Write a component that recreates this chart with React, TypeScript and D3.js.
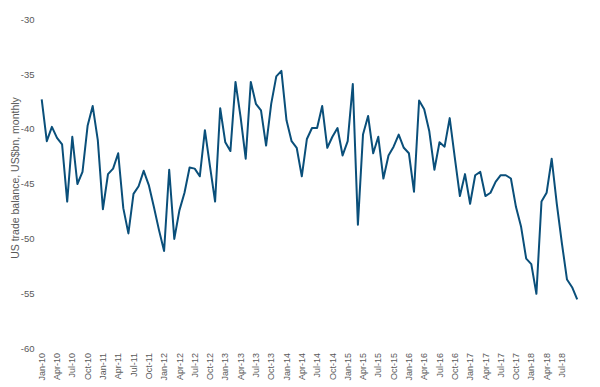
import React, { useEffect, useRef } from 'react';
import * as d3 from 'd3';

// Monthly US trade balance, US$bn, Jan-10 .. Oct-18
const startYear = 2010;
const balance2010 = [-37.3, -41.1, -39.8, -40.8, -41.4, -46.6, -40.7, -45.0, -43.9, -39.7, -37.9, -41.0];
const balance2011 = [-47.3, -44.1, -43.6, -42.2, -47.2, -49.5, -45.9, -45.2, -43.8, -45.1, -47.1, -49.2];
const balance2012 = [-51.1, -43.7, -50.0, -47.4, -45.8, -43.5, -43.6, -44.3, -40.1, -43.4, -46.6, -38.1];
const balance2013 = [-41.2, -42.0, -35.7, -38.9, -42.7, -35.7, -37.7, -38.3, -41.5, -37.7, -35.2, -34.7];
const balance2014 = [-39.2, -41.1, -41.7, -44.3, -40.9, -39.9, -39.9, -37.9, -41.7, -40.7, -39.9, -42.4];
const balance2015 = [-41.1, -35.9, -48.7, -40.5, -38.8, -42.2, -40.7, -44.5, -42.4, -41.6, -40.5, -41.7];
const balance2016 = [-42.2, -45.7, -37.4, -38.2, -40.2, -43.7, -41.2, -41.6, -39.0, -42.6, -46.1, -44.1];
const balance2017 = [-46.8, -44.2, -43.9, -46.1, -45.8, -44.8, -44.2, -44.2, -44.5, -47.1, -48.9, -51.8];
const balance2018 = [-52.3, -55.0, -46.6, -45.8, -42.7, -46.8, -50.4, -53.7, -54.4, -55.5];

const yTicks = [-60, -55, -50, -45, -40, -35, -30];
const monthNames = ['Jan', 'Feb', 'Mar', 'Apr', 'May', 'Jun', 'Jul', 'Aug', 'Sep', 'Oct', 'Nov', 'Dec'];

const values = [
  ...balance2010, ...balance2011, ...balance2012, ...balance2013, ...balance2014,
  ...balance2015, ...balance2016, ...balance2017, ...balance2018,
];

const monthLabel = (i: number) =>
  `${monthNames[i % 12]}-${String((startYear + Math.floor(i / 12)) % 100).padStart(2, '0')}`;

// quarterly tick labels Jan-10 .. Jul-18
const xTickIdx = d3.range(0, 103, 3);

const App = () => {
  const svgRef = useRef<SVGSVGElement>(null);

  useEffect(() => {
    const svg = d3.select(svgRef.current);
    svg.selectAll('*').remove();

    const font = '"Liberation Sans", Arial, sans-serif';
    const grey = '#595959';

    const x = d3.scaleLinear().domain([0, 102]).range([41.7, 561.9]);
    const y = d3.scaleLinear().domain([-60, -30]).range([348.7, 19.3]);

    // y tick labels
    svg.append('g')
      .selectAll('text')
      .data(yTicks)
      .enter()
      .append('text')
      .attr('x', 34.5)
      .attr('y', d => y(d))
      .attr('dy', '0.35em')
      .attr('text-anchor', 'end')
      .style('font-family', font)
      .style('font-size', '9.5px')
      .style('fill', grey)
      .text(d => d);

    // x tick labels (rotated)
    svg.append('g')
      .selectAll('text')
      .data(xTickIdx)
      .enter()
      .append('text')
      .attr('transform', d => `translate(${x(d)}, 353) rotate(-90)`)
      .attr('dy', '0.35em')
      .attr('text-anchor', 'end')
      .style('font-family', font)
      .style('font-size', '9px')
      .style('fill', grey)
      .text(d => monthLabel(d));

    // y axis title
    svg.append('text')
      .attr('transform', 'translate(15, 178) rotate(-90)')
      .attr('text-anchor', 'middle')
      .attr('dy', '0.35em')
      .style('font-family', font)
      .style('font-size', '10.5px')
      .style('fill', grey)
      .text('US trade balance, US$bn, monthly');

    const line = d3.line<number>()
      .x((_, i) => x(i))
      .y(d => y(d));

    svg.append('path')
      .datum(values)
      .attr('d', line)
      .attr('fill', 'none')
      .attr('stroke', '#0a4f7a')
      .attr('stroke-width', 2)
      .attr('stroke-linejoin', 'round');
  }, []);

  return (
    <div style={{ position: 'absolute', left: 0, top: 0, width: 600, height: 387, background: '#fff' }}>
      <svg ref={svgRef} width={600} height={387} style={{ display: 'block' }} />
    </div>
  );
};

export default App;
